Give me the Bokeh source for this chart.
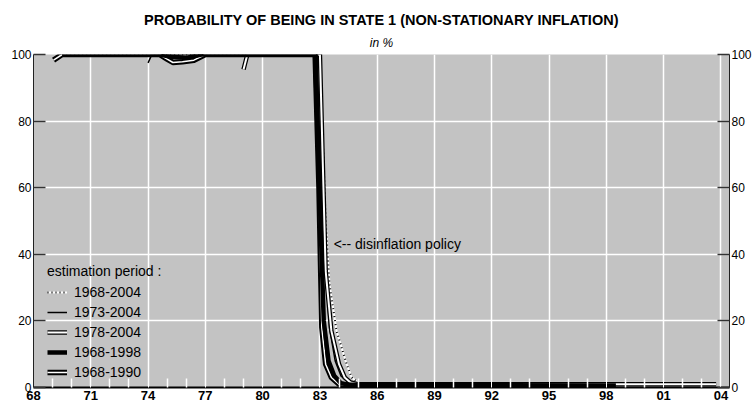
from bokeh.plotting import figure
from bokeh.models import LinearAxis, FixedTicker, Legend, LegendItem, Label, Title, Range1d
from bokeh.embed import file_html
from bokeh.resources import INLINE

# ---- axis ticks / labels ----
year_ticks = [1968, 1971, 1974, 1977, 1980, 1983, 1986, 1989, 1992, 1995, 1998, 2001, 2004]
year_labels = ["68", "71", "74", "77", "80", "83", "86", "89", "92", "95", "98", "01", "04"]
minor_years = [1969, 1970, 1972, 1973, 1975, 1976, 1978, 1979, 1981, 1982, 1984, 1985,
               1987, 1988, 1990, 1991, 1993, 1994, 1996, 1997, 1999, 2000, 2002, 2003]
y_ticks = [0, 20, 40, 60, 80, 100]

# ---- series (probability of state 1, in %) ----
# estimation period 1968-2004 (dotted)
a_x = [1969.5, 1983.0, 1983.3, 1983.5, 1983.87, 1984.4, 1984.66, 1985.1, 2003.75]
a_y = [100, 100, 50, 31, 17, 7, 3, 1.0, 0.8]
# estimation period 1973-2004 (thin black)
b_x = [1974.0, 1974.2, 1983.0, 1983.25, 1983.5, 1983.8, 1984.1, 1984.5, 1985.0, 2003.75]
b_y = [97.5, 100, 100, 40, 18, 8, 3.5, 1.5, 0.8, 0.8]
# estimation period 1978-2004 (white, black border)
c_x = [1979.0, 1979.2, 1983.0, 1983.3, 1983.6, 1984.0, 1984.3, 1984.6, 1985.0, 2003.75]
c_y = [95.5, 100, 100, 35, 17, 7, 3, 1.5, 1.0, 1.0]
# estimation period 1968-1998 (thick black)
d_x = [1969.5, 1974.6, 1975.2, 1976.0, 1976.8, 1982.75, 1983.0, 1983.2, 1983.45, 1983.75, 1984.1, 1984.6, 1998.5]
d_y = [100, 100, 99.3, 99.0, 100, 100, 55, 20, 8, 3.5, 1.3, 0.7, 0.6]
# estimation period 1968-1990 (double line)
e_x = [1969.05, 1969.5, 1974.6, 1975.0, 1975.3, 1975.8, 1976.4, 1977.0, 1982.75, 1982.95, 1983.1, 1983.3, 1983.6, 1984.0, 1984.5, 1990.5]
e_y = [98.3, 100, 100, 98.6, 97.6, 97.8, 98.3, 100, 100, 60, 18, 7, 3, 1.0, 0.7, 0.7]

FONT = "Liberation Sans"

p = figure(width=754, height=412,
           x_range=Range1d(1968.0, 2004.45), y_range=Range1d(0, 100),
           output_backend="svg", toolbar_location=None, title=None,
           min_border_left=33, min_border_right=23, min_border_bottom=25, min_border_top=54,
           background_fill_color="#c3c3c3", border_fill_color="white",
           outline_line_color=None)

p.add_layout(Title(text="in %", align="center", text_font=FONT, text_font_style="italic",
                   text_font_size="12px", text_color="black", standoff=10), "above")
p.add_layout(Title(text="PROBABILITY OF BEING IN STATE 1 (NON-STATIONARY INFLATION)",
                   align="center", text_font=FONT, text_font_style="bold",
                   text_font_size="14.5px", text_color="black", standoff=2), "above")

# x axis
xt = FixedTicker(ticks=year_ticks, minor_ticks=minor_years)
xa = p.xaxis[0]
xa.ticker = xt
xa.major_label_overrides = {t: l for t, l in zip(year_ticks, year_labels)}
xa.major_label_text_font = FONT
xa.major_label_text_font_style = "bold"
xa.major_label_text_font_size = "13px"
xa.major_label_text_color = "black"
xa.major_label_standoff = 3
xa.axis_line_color = "black"
xa.axis_line_width = 2
xa.major_tick_line_color = "white"
xa.major_tick_in = 9
xa.major_tick_out = 0
xa.minor_tick_line_color = "white"
xa.minor_tick_line_width = 1.5
xa.minor_tick_in = 9
xa.minor_tick_out = 0

# y axes
ya = p.yaxis[0]
ya.ticker = FixedTicker(ticks=y_ticks)
yr = LinearAxis(ticker=FixedTicker(ticks=y_ticks))
p.add_layout(yr, "right")
for ax in (ya, yr):
    ax.major_label_text_font = FONT
    ax.major_label_text_font_size = "12px"
    ax.major_label_text_color = "black"
    ax.major_label_standoff = 2
    ax.axis_line_color = "#222222"
    ax.axis_line_width = 1
    ax.major_tick_line_color = "#333333"
    ax.major_tick_line_width = 1.5
    ax.major_tick_in = 12
    ax.major_tick_out = 0
    ax.minor_tick_line_color = None

p.xgrid.grid_line_color = "white"
p.xgrid.grid_line_width = 1.5
p.ygrid.grid_line_color = "white"
p.ygrid.grid_line_width = 1.5
p.ygrid.ticker = FixedTicker(ticks=[20, 40, 60, 80])

# lines
a1 = p.line(a_x, a_y, line_color="white", line_width=2, line_join="round")
a2 = p.line(a_x, a_y, line_color="black", line_width=2, line_dash="1 3")
b1 = p.line(b_x, b_y, line_color="black", line_width=1.5, line_join="round")
c1 = p.line(c_x, c_y, line_color="black", line_width=4.5, line_join="round")
c2 = p.line(c_x, c_y, line_color="white", line_width=2, line_join="round")
e1 = p.line(e_x, e_y, line_color="black", line_width=5.5, line_join="round")
e2 = p.line(e_x, e_y, line_color="white", line_width=1.5, line_join="round")
d1 = p.line(d_x, d_y, line_color="black", line_width=4.5, line_join="round")

legend = Legend(items=[
    LegendItem(label="1968-2004", renderers=[a1, a2]),
    LegendItem(label="1973-2004", renderers=[b1]),
    LegendItem(label="1978-2004", renderers=[c1, c2]),
    LegendItem(label="1968-1998", renderers=[d1]),
    LegendItem(label="1968-1990", renderers=[e1, e2]),
], location=(14, 5), title="estimation period :")
legend.background_fill_alpha = 0
legend.border_line_color = None
legend.label_text_font = FONT
legend.label_text_font_size = "14px"
legend.label_text_color = "black"
legend.title_text_font = FONT
legend.title_text_font_size = "14px"
legend.title_text_font_style = "normal"
legend.title_text_color = "black"
legend.title_standoff = 3
legend.glyph_width = 20
legend.glyph_height = 20
legend.label_height = 20
legend.label_standoff = 7
legend.spacing = 0
legend.padding = 0
legend.margin = 0
p.add_layout(legend)

p.add_layout(Label(x=1983.72, y=43, text="<-- disinflation policy", text_font=FONT,
                   text_font_size="14px", text_baseline="middle", text_color="black"))

open("out.html", "w").write(file_html(p, INLINE))
